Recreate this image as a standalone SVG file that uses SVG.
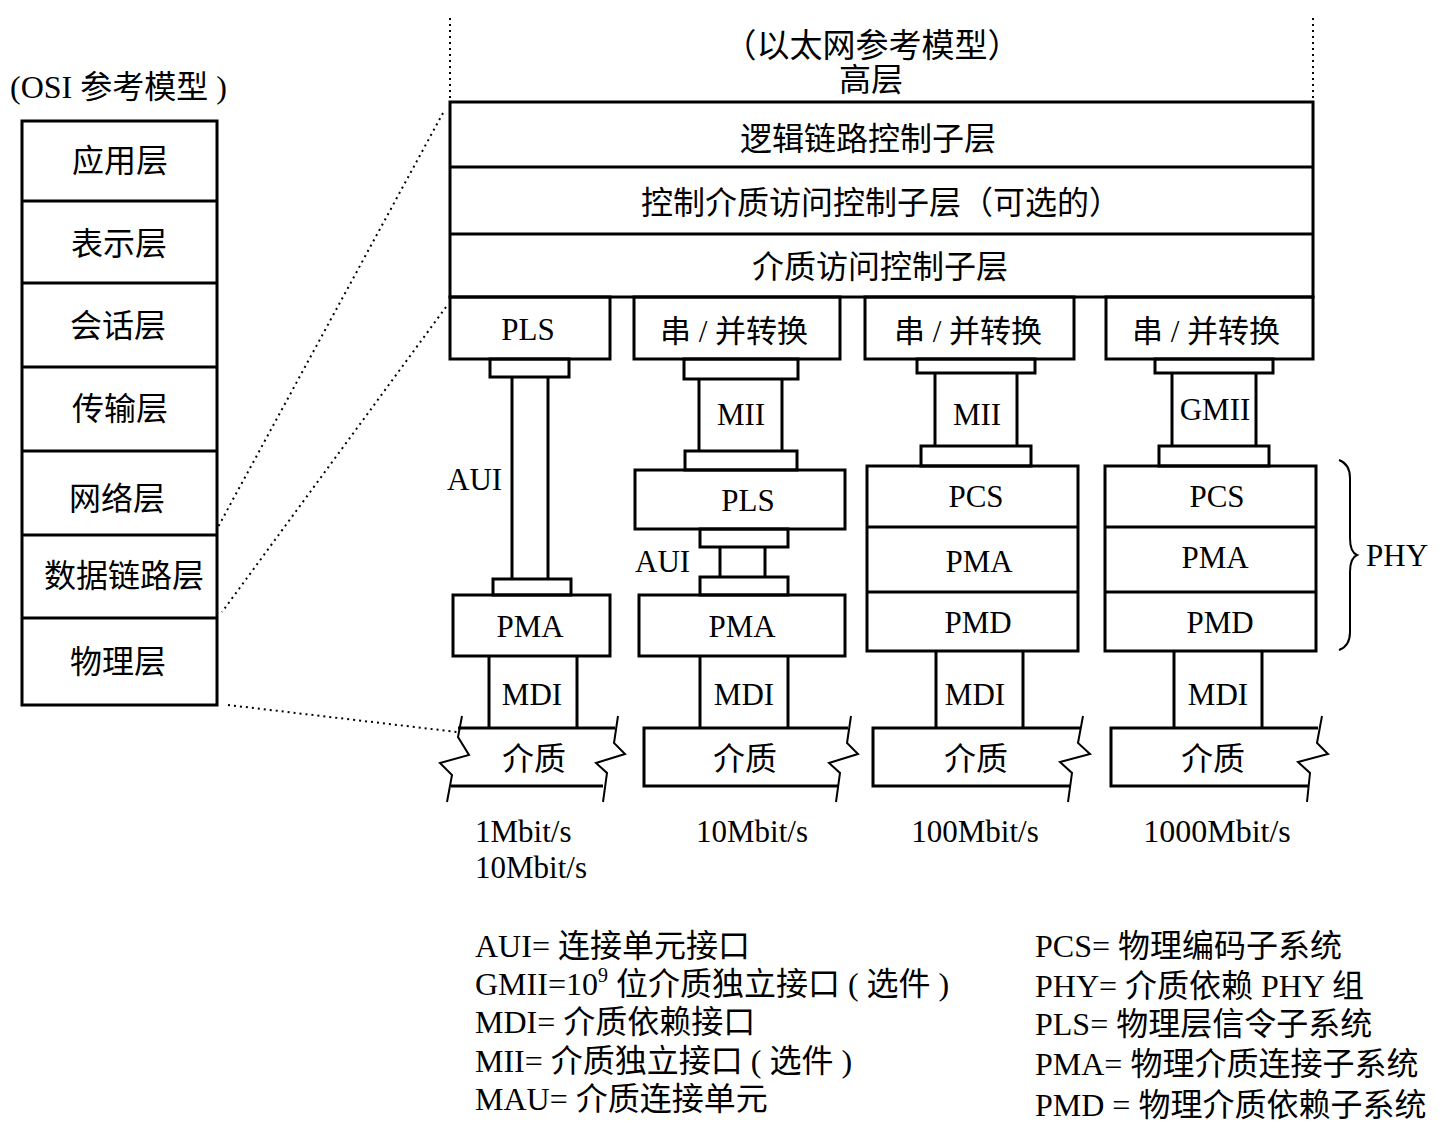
<svg xmlns="http://www.w3.org/2000/svg" width="1444" height="1131" viewBox="0 0 1444 1131">
<style>
.b{fill:none;stroke:#000;stroke-width:3}
.l{fill:none;stroke:#000;stroke-width:3}
.z{fill:none;stroke:#000;stroke-width:2}
.d{fill:none;stroke:#000;stroke-width:2;stroke-dasharray:2 4}
text{font-family:"Liberation Serif","Noto Sans CJK SC",serif;font-size:31px;fill:#000}
.c{text-anchor:middle}
.k{font-size:32px}
.g{font-size:32px}
</style>
<rect width="1444" height="1131" fill="#fff"/>

<g id="osi-label"><text x="10" y="98" class="k">(OSI 参考模型 )</text></g>
<g id="osi">
<rect class="b" x="22" y="121" width="195" height="584"/>
<line class="l" x1="22" y1="201" x2="217" y2="201"/>
<line class="l" x1="22" y1="283" x2="217" y2="283"/>
<line class="l" x1="22" y1="367" x2="217" y2="367"/>
<line class="l" x1="22" y1="451" x2="217" y2="451"/>
<line class="l" x1="22" y1="535" x2="217" y2="535"/>
<line class="l" x1="22" y1="618" x2="217" y2="618"/>
<text x="120" y="172" class="c k">应用层</text>
<text x="119" y="255" class="c k">表示层</text>
<text x="118" y="337" class="c k">会话层</text>
<text x="120" y="420" class="c k">传输层</text>
<text x="117" y="510" class="c k">网络层</text>
<text x="124" y="587" class="c k">数据链路层</text>
<text x="118" y="673" class="c k">物理层</text>
</g>

<g id="eth-title">
<text x="872" y="57" class="c" style="font-size:33px">（以太网参考模型）</text>
<text x="871" y="91" class="c k">高层</text>
</g>

<g id="mac-stack">
<rect class="b" x="450" y="102" width="863" height="195"/>
<line class="l" x1="450" y1="167" x2="1313" y2="167"/>
<line class="l" x1="450" y1="234" x2="1313" y2="234"/>
<text x="868" y="150" class="c k">逻辑链路控制子层</text>
<text x="881" y="214" class="c k">控制介质访问控制子层（可选的）</text>
<text x="880" y="278" class="c k">介质访问控制子层</text>
</g>

<!-- Column 1 -->
<g id="pls1"><rect class="b" x="450" y="297" width="160" height="62"/><text x="528" y="340" class="c">PLS</text></g>
<g id="aui1">
<rect class="b" x="490" y="359" width="79" height="18"/>
<line class="l" x1="512" y1="377" x2="512" y2="579"/>
<line class="l" x1="548" y1="377" x2="548" y2="579"/>
<rect class="b" x="493" y="579" width="78" height="16"/>
<text x="447" y="490">AUI</text>
</g>
<g id="pma1"><rect class="b" x="453" y="595" width="157" height="61"/><text x="530" y="637" class="c">PMA</text></g>
<g id="mdi1">
<line class="l" x1="489" y1="656" x2="489" y2="728"/>
<line class="l" x1="577" y1="656" x2="577" y2="728"/>
<text x="532" y="705" class="c">MDI</text>
</g>
<g id="medium1">
<line class="l" x1="458" y1="728" x2="615" y2="728"/>
<line class="l" x1="451" y1="786" x2="603" y2="786"/>
<polyline class="z" points="462,716 458,737 469,755 440,763 452,775 447,802"/>
<polyline class="z" points="618,716 614,743 625,754 596,763 607,773 603,802"/>
<text x="534" y="770" class="c k">介质</text>
</g>

<!-- Column 2 -->
<g id="conv2"><rect class="b" x="634" y="297" width="206" height="62"/><text x="734" y="342" class="c">串 / 并转换</text></g>
<g id="mii2">
<rect class="b" x="684" y="359" width="114" height="20"/>
<line class="l" x1="699" y1="379" x2="699" y2="451"/>
<line class="l" x1="782" y1="379" x2="782" y2="451"/>
<rect class="b" x="685" y="451" width="112" height="19"/>
<text x="741" y="425" class="c">MII</text>
</g>
<g id="pls2"><rect class="b" x="635" y="470" width="210" height="59"/><text x="748" y="511" class="c">PLS</text></g>
<g id="aui2">
<rect class="b" x="700" y="529" width="88" height="18"/>
<line class="l" x1="720" y1="547" x2="720" y2="577"/>
<line class="l" x1="765" y1="547" x2="765" y2="577"/>
<rect class="b" x="700" y="577" width="88" height="18"/>
<text x="635" y="572">AUI</text>
</g>
<g id="pma2"><rect class="b" x="639" y="595" width="206" height="61"/><text x="742" y="637" class="c">PMA</text></g>
<g id="mdi2">
<line class="l" x1="700" y1="656" x2="700" y2="728"/>
<line class="l" x1="788" y1="656" x2="788" y2="728"/>
<text x="744" y="705" class="c">MDI</text>
</g>
<g id="medium2">
<polyline class="l" points="848,728 644,728 644,786 839,786"/>
<polyline class="z" points="851,716 847,743 858,754 829,763 840,773 836,802"/>
<text x="745" y="770" class="c k">介质</text>
</g>

<!-- Column 3 -->
<g id="conv3"><rect class="b" x="865" y="297" width="209" height="62"/><text x="968" y="342" class="c">串 / 并转换</text></g>
<g id="mii3">
<rect class="b" x="917" y="359" width="118" height="14"/>
<line class="l" x1="935" y1="373" x2="935" y2="446"/>
<line class="l" x1="1017" y1="373" x2="1017" y2="446"/>
<rect class="b" x="921" y="446" width="110" height="20"/>
<text x="977" y="425" class="c">MII</text>
</g>
<g id="phy3">
<rect class="b" x="867" y="466" width="211" height="185"/>
<line class="l" x1="867" y1="527" x2="1078" y2="527"/>
<line class="l" x1="867" y1="592" x2="1078" y2="592"/>
<text x="976" y="507" class="c">PCS</text>
<text x="979" y="572" class="c">PMA</text>
<text x="978" y="633" class="c">PMD</text>
</g>
<g id="mdi3">
<line class="l" x1="936" y1="651" x2="936" y2="728"/>
<line class="l" x1="1023" y1="651" x2="1023" y2="728"/>
<text x="975" y="705" class="c">MDI</text>
</g>
<g id="medium3">
<polyline class="l" points="1080,728 873,728 873,786 1070,786"/>
<polyline class="z" points="1083,716 1078,743 1090,754 1060,762 1072,773 1068,802"/>
<text x="976" y="770" class="c k">介质</text>
</g>

<!-- Column 4 -->
<g id="conv4"><rect class="b" x="1106" y="297" width="207" height="62"/><text x="1206" y="342" class="c">串 / 并转换</text></g>
<g id="gmii4">
<rect class="b" x="1155" y="359" width="118" height="14"/>
<line class="l" x1="1172" y1="373" x2="1172" y2="446"/>
<line class="l" x1="1256" y1="373" x2="1256" y2="446"/>
<rect class="b" x="1159" y="446" width="110" height="20"/>
<text x="1215" y="420" class="c">GMII</text>
</g>
<g id="phy4">
<rect class="b" x="1105" y="466" width="211" height="185"/>
<line class="l" x1="1105" y1="527" x2="1316" y2="527"/>
<line class="l" x1="1105" y1="592" x2="1316" y2="592"/>
<text x="1217" y="507" class="c">PCS</text>
<text x="1215" y="568" class="c">PMA</text>
<text x="1220" y="633" class="c">PMD</text>
</g>
<g id="mdi4">
<line class="l" x1="1174" y1="651" x2="1174" y2="728"/>
<line class="l" x1="1262" y1="651" x2="1262" y2="728"/>
<text x="1218" y="705" class="c">MDI</text>
</g>
<g id="medium4">
<polyline class="l" points="1318,728 1111,728 1111,786 1308,786"/>
<polyline class="z" points="1322,716 1317,743 1328,754 1298,762 1310,773 1307,802"/>
<text x="1213" y="770" class="c k">介质</text>
</g>

<g id="phy-label">
<path class="z" d="M1339,460 Q1350,464 1350,478 L1350,538 Q1350,552 1357,555 Q1350,558 1350,572 L1350,632 Q1350,646 1339,650"/>
<text x="1366" y="566">PHY</text>
</g>

<g id="speeds">
<text x="475" y="842">1Mbit/s</text>
<text x="475" y="878">10Mbit/s</text>
<text x="752" y="842" class="c">10Mbit/s</text>
<text x="975" y="842" class="c">100Mbit/s</text>
<text x="1217" y="842" class="c" style="font-size:32px">1000Mbit/s</text>
</g>

<g id="connectors">
<line class="d" x1="450" y1="18" x2="450" y2="100"/>
<line class="d" x1="1313" y1="18" x2="1313" y2="100"/>
<line class="d" x1="443" y1="113" x2="218" y2="527"/>
<line class="d" x1="446" y1="307" x2="222" y2="612"/>
<line class="d" x1="228" y1="705" x2="457" y2="732"/>
</g>

<g id="legend">
<text x="475" y="957" class="g">AUI= 连接单元接口</text>
<text x="475" y="995" class="g">GMII=10<tspan dy="-13" style="font-size:20px">9</tspan><tspan dy="13"> 位介质独立接口 ( 选件 )</tspan></text>
<text x="475" y="1033" class="g">MDI= 介质依赖接口</text>
<text x="475" y="1072" class="g">MII= 介质独立接口 ( 选件 )</text>
<text x="475" y="1110" class="g">MAU= 介质连接单元</text>
<text x="1035" y="957" class="g">PCS= 物理编码子系统</text>
<text x="1035" y="997" class="g">PHY= 介质依赖 PHY 组</text>
<text x="1035" y="1035" class="g">PLS= 物理层信令子系统</text>
<text x="1035" y="1075" class="g">PMA= 物理介质连接子系统</text>
<text x="1035" y="1116" class="g">PMD = 物理介质依赖子系统</text>
</g>
</svg>
